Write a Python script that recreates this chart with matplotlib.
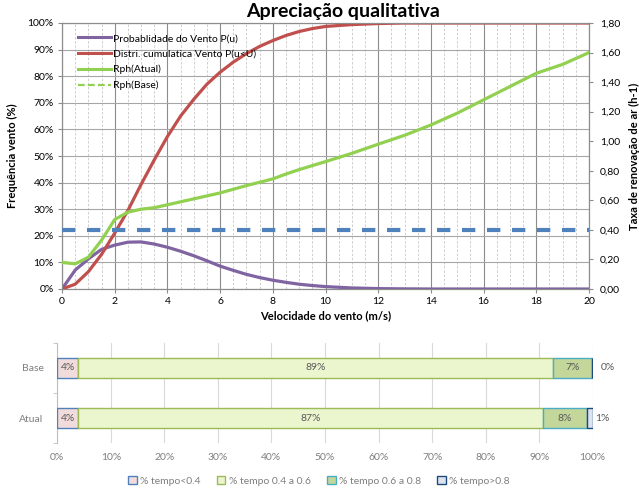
import matplotlib.pyplot as plt
from matplotlib.lines import Line2D
from matplotlib.patches import Patch
from matplotlib.ticker import FuncFormatter, MultipleLocator

# --------------------------------------------------------------------------- #
# Dados
velocidade = [0, 0.5, 1, 1.5, 2, 2.5, 3, 3.5, 4, 4.5, 5, 5.5, 6, 6.5, 7, 7.5,
              8, 8.5, 9, 9.5, 10, 11, 12, 13, 14, 15, 16, 17, 18, 19, 20]
prob_vento = [0, 7.1, 11.3, 14.9, 16.5, 17.6, 17.7, 16.9, 15.7, 14.2, 12.5,
              10.6, 8.6, 7.0, 5.5, 4.3, 3.3, 2.5, 1.8, 1.3, 0.9, 0.4, 0.15,
              0.05, 0, 0, 0, 0, 0, 0, 0]
cumul_vento = [0, 1.8, 6.5, 13, 21, 29.5, 39.3, 48.5, 57.3, 65, 71.3, 77,
               81.5, 85.3, 88.5, 91.2, 93.4, 95.3, 96.8, 97.9, 98.7, 99.4,
               99.8, 100, 100, 100, 100, 100, 100, 100, 100]
rph_atual = [0.18, 0.17, 0.215, 0.33, 0.47, 0.52, 0.54, 0.55, 0.57, 0.59,
             0.61, 0.63, 0.65, 0.675, 0.70, 0.722, 0.745, 0.778, 0.808, 0.835,
             0.862, 0.918, 0.98, 1.04, 1.11, 1.19, 1.28, 1.37, 1.46, 1.52, 1.60]
rph_base = [0.40] * len(velocidade)

cenarios = ["Atual", "Base"]
classes = ["% tempo<0.4", "% tempo 0.4 a 0.6", "% tempo 0.6 a 0.8",
           "% tempo>0.8"]
tempo_pct = {
    "Atual": [3.9, 86.8, 8.2, 1.1],
    "Base": [3.9, 88.6, 7.4, 0.0],
}

# --------------------------------------------------------------------------- #
plt.rcParams.update({
    "font.family": ["Lato", "DejaVu Sans"],
    "font.size": 7,
})

fig = plt.figure(figsize=(6.39, 4.91), dpi=100)

# ---- grafico de cima
ax = fig.add_axes([62 / 639, 1 - 289 / 491, 527 / 639, 266 / 491])
ax2 = ax.twinx()

ax.set_xlim(0, 20)
ax.set_ylim(0, 100)
ax2.set_ylim(0, 1.8)

ax.xaxis.set_major_locator(MultipleLocator(2))
ax.xaxis.set_minor_locator(MultipleLocator(0.5))
ax.yaxis.set_major_locator(MultipleLocator(10))
ax2.yaxis.set_major_locator(MultipleLocator(0.2))

ax.grid(which="minor", axis="x", color="#C8C8C8", linestyle=(0, (3, 2)),
        linewidth=0.6)
ax.grid(which="major", axis="x", color="#8C8C8C", linewidth=0.8)
ax.grid(which="major", axis="y", color="#A6A6A6", linewidth=0.8)
ax.set_axisbelow(True)

ax.yaxis.set_major_formatter(FuncFormatter(lambda v, p: f"{v:.0f}%"))
ax2.yaxis.set_major_formatter(
    FuncFormatter(lambda v, p: f"{v:.2f}".replace(".", ",")))

for s in ["top", "right", "left", "bottom"]:
    ax.spines[s].set_color("#8C8C8C")
    ax2.spines[s].set_color("#8C8C8C")
ax.tick_params(axis="both", which="major", length=3, color="#8C8C8C",
               labelsize=7.5, pad=3)
ax.tick_params(axis="x", which="minor", length=0)
ax2.tick_params(axis="y", length=3, color="#8C8C8C", labelsize=7.5, pad=5)

c_purple = "#8064A2"
c_red = "#C0504D"
c_green = "#92D050"
c_blue = "#4F81BD"

ax.plot(velocidade, prob_vento, color=c_purple, lw=2.3, zorder=3)
ax.plot(velocidade, cumul_vento, color=c_red, lw=2.3, zorder=3)
ax2.plot(velocidade, rph_atual, color=c_green, lw=2.3, zorder=3)
ax2.plot(velocidade, rph_base, color=c_blue, lw=3,
         linestyle=(0, (3.2, 2.8)), zorder=3)

ax.set_xlabel("Velocidade do vento (m/s)", fontweight="bold", fontsize=8,
              labelpad=3)
ax.set_ylabel("Frequência vento (%)", fontweight="bold", fontsize=8,
              labelpad=7)
ax2.set_ylabel("Taxa de renovação de ar (h-1)", fontweight="bold",
               fontsize=8, labelpad=6)

fig.text(343 / 639, 1 - 12 / 491, "Apreciação qualitativa",
         fontweight="bold", fontsize=14, ha="center", va="center")

handles = [
    Line2D([], [], color=c_purple, lw=2.2),
    Line2D([], [], color=c_red, lw=2.2),
    Line2D([], [], color=c_green, lw=2.2),
    Line2D([], [], color=c_green, lw=1.6, linestyle=(0, (3, 1.5))),
]
labels = ["Probablidade do Vento P(u)", "Distri. cumulatica Vento P(u<U)",
          "Rph(Atual)", "Rph(Base)"]
ax2.legend(handles, labels, loc="upper left", bbox_to_anchor=(0.022, 0.975),
           frameon=False, fontsize=7.5, handlelength=3.2, labelspacing=0.6,
           handletextpad=0.2, borderaxespad=0)

# ---- grafico de baixo (barras empilhadas)
bx = fig.add_axes([57.3 / 639, 1 - 443.3 / 491, 535.4 / 639, 100.6 / 491])

faces = ["#F2DCDB", "#EBF6CF", "#C4D79B", "#DCE3EE"]
edges = ["#4F81BD", "#9BBB59", "#4BACC6", "#1F497D"]
text_c = "#595959"

ypos = list(range(len(cenarios)))
for yi, cen in zip(ypos, cenarios):
    left = 0
    vals = tempo_pct[cen]
    for k, v in enumerate(vals):
        bx.barh(yi, v, left=left, height=0.41, color=faces[k],
                edgecolor=edges[k], linewidth=1.0, zorder=3)
        if k < 3:
            bx.text(left + v / 2, yi, f"{v:.0f}%", ha="center", va="center",
                    color=text_c, fontsize=7.5, zorder=4)
        else:
            off = 2 if v > 0 else 6
            bx.annotate(f"{v:.0f}%", (left + v, yi), xytext=(off, 0),
                        textcoords="offset points", ha="left", va="center",
                        color=text_c, fontsize=7.5)
        left += v

bx.set_xlim(0, 100)
bx.set_ylim(-0.5, 1.5)
bx.xaxis.set_major_locator(MultipleLocator(10))
bx.xaxis.set_major_formatter(FuncFormatter(lambda v, p: f"{v:.0f}%"))
bx.grid(axis="x", color="#D9D9D9", linewidth=0.8)
bx.set_axisbelow(True)
bx.set_yticks(ypos)
bx.set_yticklabels(cenarios)
bx.set_yticks([-0.5, 0.5, 1.5], minor=True)
bx.tick_params(axis="y", which="major", length=0, pad=10, labelcolor="#7F7F7F",
               labelsize=7.5)
bx.tick_params(axis="y", which="minor", length=3, color="#BFBFBF")
bx.tick_params(axis="x", length=0, pad=7, labelcolor="#7F7F7F", labelsize=7.5)
for s in ["top", "right", "bottom"]:
    bx.spines[s].set_visible(False)
bx.spines["left"].set_color("#BFBFBF")

leg_handles = [Patch(facecolor=f, edgecolor=e, linewidth=1.0)
               for f, e in zip(faces, edges)]
fig.legend(leg_handles, classes, loc="center",
           bbox_to_anchor=(319 / 639, 1 - 481 / 491), ncol=4, frameon=False,
           fontsize=7.5, handlelength=0.8, handleheight=0.8,
           handletextpad=0.3, columnspacing=1.6, labelcolor="#7F7F7F")

fig.savefig("out.png", dpi=100)
